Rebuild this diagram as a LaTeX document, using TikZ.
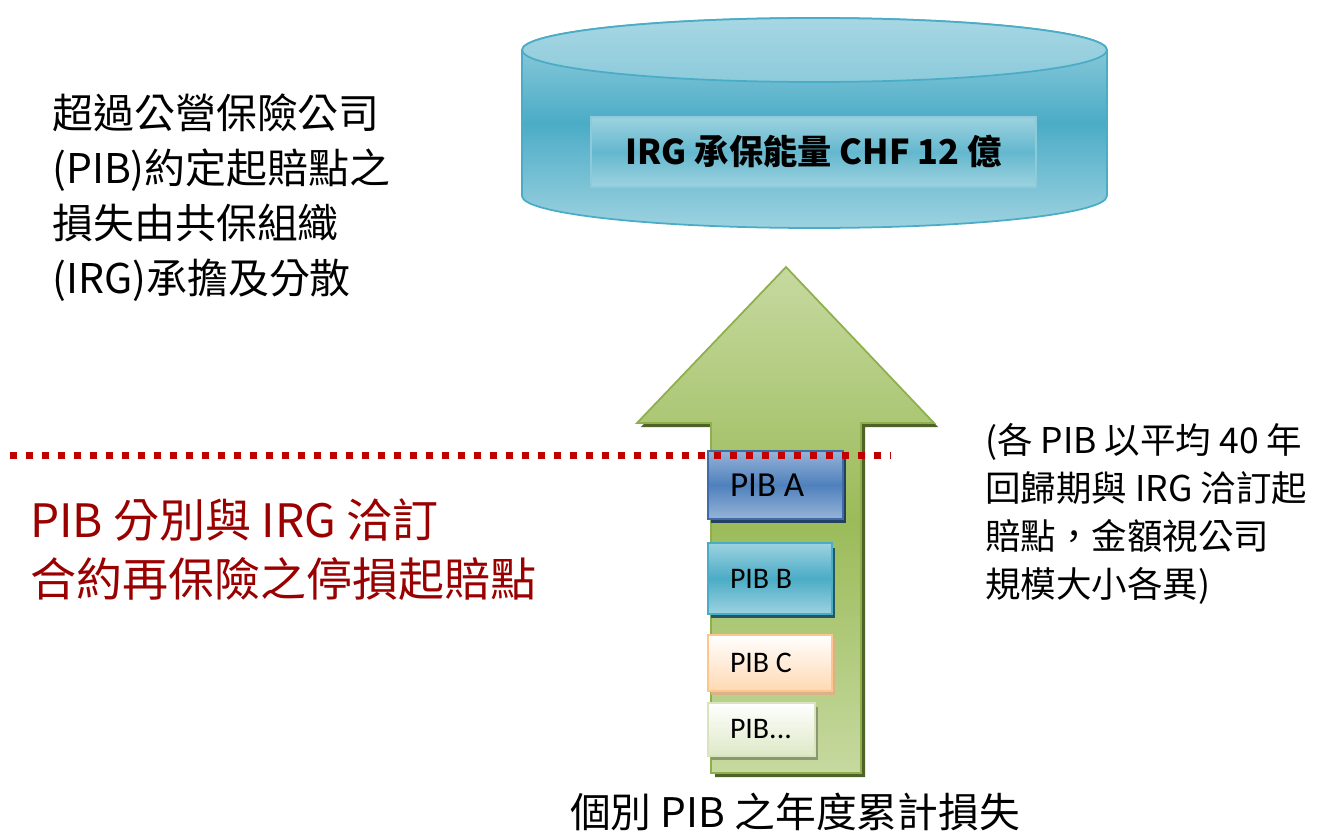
\documentclass[tikz,border=0pt]{standalone}
\usepackage{fontspec}
\setmainfont{Noto Sans CJK TC}
\newfontfamily\boxfont{Carlito}
\usetikzlibrary{shadows}

\definecolor{cyllight}{HTML}{9DD2E0}
\definecolor{cylmid}{HTML}{4BACC6}
\definecolor{arrlight}{HTML}{C6D9A0}
\definecolor{arrmid}{HTML}{9BBB59}
\definecolor{arredge}{HTML}{8DB04C}
\definecolor{arrshadow}{HTML}{4F6228}
\definecolor{stopred}{HTML}{C00000}
\definecolor{textred}{HTML}{9A0000}
\definecolor{pibAlight}{HTML}{95B3D7}
\definecolor{pibAmid}{HTML}{4F81BD}
\definecolor{pibAedge}{HTML}{3F6BA8}
\definecolor{pibAshadow}{HTML}{243F60}

\begin{document}
\begin{tikzpicture}[x=0.02cm,y=-0.02cm,
  pib/.style={draw,line width=1pt,align=left,inner xsep=0.44cm,inner ysep=0pt,
    font=\boxfont\fontsize{17}{20}\selectfont},
  note/.style={anchor=north west,align=left,inner sep=0pt}]
	\useasboundingbox (0,0) rectangle (1323,835);

	% IRG pool
	\path[draw=cylmid,line width=1pt,top color=cyllight,bottom color=cyllight,middle color=cylmid]
	  (522,50) -- (522,196) arc[start angle=180,end angle=360,x radius=5.85cm,y radius=0.64cm]
	  -- (1107,50) arc[start angle=0,end angle=180,x radius=5.85cm,y radius=0.64cm] -- cycle;
	\path[draw=cylmid,line width=1pt,top color=cyllight!90!white,bottom color=cyllight!80!cylmid]
	  (814.5,50) ellipse[x radius=5.85cm,y radius=0.64cm];
	\node[draw=cyllight!80!cylmid,line width=1pt,top color=cyllight,bottom color=cyllight,middle color=cylmid!70!cyllight,
	  minimum width=8.9cm,minimum height=1.4cm,font=\bfseries\fontsize{19.5}{22}\selectfont] (irg) at (813.5,152) {IRG 承保能量 CHF 12 億};

	% loss arrow
	\fill[arrshadow] (790,271) -- (938,427) -- (865,427) -- (865,777) -- (715,777) -- (715,427) -- (641,427) -- cycle;
	\path[draw=arredge,line width=1pt,top color=arrlight,bottom color=arrlight,middle color=arrmid]
	  (786,267) -- (934,423) -- (861,423) -- (861,773) -- (711,773) -- (711,423) -- (637,423) -- cycle;

	% PIB boxes
	\node[pib,draw=pibAedge,top color=pibAlight,bottom color=pibAlight,middle color=pibAmid,
	  minimum height=1.36cm,text width=1.82cm,font=\boxfont\fontsize{20}{24}\selectfont,
	  drop shadow={shadow xshift=0.06cm,shadow yshift=-0.09cm,fill=pibAshadow,opacity=1}] (pibA) at (775.5,485) {PIB\hspace{0.22em}A};
	\node[pib,draw=cylmid,top color=cyllight,bottom color=cyllight,middle color=cylmid,minimum height=1.42cm,text width=1.6cm,
	  drop shadow={shadow xshift=0.06cm,shadow yshift=-0.09cm,fill=cylmid!50!black,opacity=1}] (pibB) at (770,578.5) {PIB\hspace{0.22em}B};
	\node[pib,draw=orange!45!white,top color=white,bottom color=orange!30!white,minimum height=1.12cm,text width=1.6cm,
	  drop shadow={shadow xshift=0.06cm,shadow yshift=-0.08cm,fill=brown!60!white,opacity=1}] (pibC) at (770,663) {PIB\hspace{0.22em}C};
	\node[pib,draw=arrlight!70!white,top color=white,bottom color=arrlight!60!white,minimum height=1.06cm,text width=1.26cm,
	  drop shadow={shadow xshift=0.06cm,shadow yshift=-0.08cm,fill=gray!60!arrmid,opacity=1}] (pibD) at (761.5,729.5) {PIB...};

	% stop-loss line
	\coordinate (stopL) at (10,455);
	\coordinate (stopR) at (890,455);
	\draw[stopred,line width=0.14cm,dash pattern=on 0.14cm off 0.18cm] (stopL) -- (stopR);

	% texts
	\node[note,font=\fontsize{23.3}{31.3}\selectfont] (topnote) at (52,93)
	  {超過公營保險公司\\(PIB)約定起賠點之\\損失由共保組織\\(IRG)承擔及分散};
	\node[note,text=textred,font=\fontsize{26.2}{33.6}\selectfont] (rednote) at (30,498)
	  {PIB 分別與 IRG 洽訂\\合約再保險之停損起賠點};
	\node[note,font=\fontsize{20.2}{27.3}\selectfont] (rightnote) at (985,423)
	  {(各 PIB 以平均 40 年\\回歸期與 IRG 洽訂起\\賠點，金額視公司\\規模大小各異)};
	\node[font=\fontsize{23.2}{28}\selectfont] (axis) at (795,812) {個別 PIB 之年度累計損失};
\end{tikzpicture}
\end{document}
